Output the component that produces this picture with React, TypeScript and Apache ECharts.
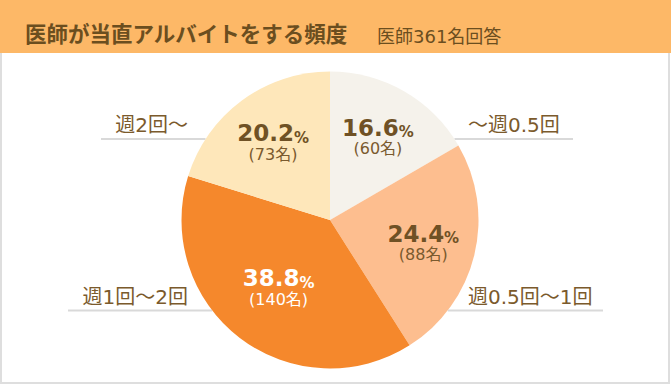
import React, { useEffect, useRef } from 'react';
import * as echarts from 'echarts';

const categories = ['〜週0.5回', '週0.5回〜1回', '週1回〜2回', '週2回〜'];
const counts = [60, 88, 140, 73];
const sliceColors = ['#F5F2EB', '#FDBE8F', '#F5882C', '#FEE7BA'];
const titleText = '医師が当直アルバイトをする頻度';
const subtitleText = '医師361名回答';

// layout (not data)
const CX = 330;
const CY = 220;
const R = 148.5;
const INNER_LABEL_R = 93;
const innerLabelRadius = [93, 93, 82, 93];
const outerLabelLayout = [
  { side: 'right', lineY: 139, lineEnd: 573, textX: 468 },
  { side: 'right', lineY: 310.5, lineEnd: 603, textX: 468 },
  { side: 'left', lineY: 310.5, lineEnd: 68, textX: 188 },
  { side: 'left', lineY: 139, lineEnd: 101, textX: 188 },
];

const CJK = '"DejaVu Sans", "Noto Sans CJK JP", sans-serif';

export default function App() {
  const ref = useRef<HTMLDivElement>(null);
  useEffect(() => {
    if (!ref.current) return;
    const chart = echarts.init(ref.current, undefined, { renderer: 'svg' });
    const total = counts.reduce((a, b) => a + b, 0);
    const data = categories.map((name, i) => ({
      name,
      value: counts[i],
      itemStyle: { color: sliceColors[i] },
    }));
    chart.setOption({
      animation: false,
      backgroundColor: '#ffffff',
      title: [
        {
          text: titleText,
          left: 20,
          top: 16,
          textStyle: {
            fontFamily: '"Noto Sans CJK JP", sans-serif',
            fontSize: 21.5,
            fontWeight: 'bold',
            color: '#6B4E1F',
            lineHeight: 22,
          },
          z: 10,
        },
        {
          text: subtitleText,
          left: 372,
          top: 22,
          textStyle: {
            fontFamily: CJK,
            fontSize: 18,
            fontWeight: 'normal',
            color: '#6B4E1F',
            lineHeight: 18,
          },
          z: 10,
        },
      ],
      graphic: [
        {
          type: 'rect',
          z: 0,
          shape: { x: 1, y: 1, width: 668, height: 382 },
          style: { fill: '#ffffff', stroke: '#DEDEDE', lineWidth: 2 },
        },
        {
          type: 'rect',
          z: 1,
          shape: { x: 0, y: 0, width: 671, height: 53 },
          style: { fill: '#FDB867' },
        },
      ],
      series: [
        {
          type: 'pie',
          center: [CX, CY],
          radius: R,
          startAngle: 90,
          clockwise: true,
          avoidLabelOverlap: false,
          silent: true,
          itemStyle: { borderWidth: 0 },
          label: {
            show: true,
            position: 'outside',
            formatter: '{b}',
            fontFamily: CJK,
            fontSize: 20,
            color: '#7B5A2C',
          },
          labelLine: {
            show: true,
            length: 5,
            length2: 5,
            lineStyle: { color: '#D9D9D9', width: 2 },
          },
          labelLayout: (params: any) => {
            const L = outerLabelLayout[params.dataIndex];
            const dy = L.lineY - CY;
            const dx = Math.sqrt(R * R - dy * dy);
            const edgeX = L.side === 'right' ? CX + dx : CX - dx;
            return {
              x: L.textX,
              y: L.lineY - 14,
              align: L.side === 'right' ? 'left' : 'right',
              verticalAlign: 'middle',
              labelLinePoints: [
                [edgeX, L.lineY],
                [(edgeX + L.lineEnd) / 2, L.lineY],
                [L.lineEnd, L.lineY],
              ],
            };
          },
          data,
        },
        {
          type: 'pie',
          center: [CX, CY],
          radius: INNER_LABEL_R * 2,
          startAngle: 90,
          clockwise: true,
          silent: true,
          z: 5,
          itemStyle: { color: 'rgba(0,0,0,0)', borderWidth: 0 },
          labelLine: { show: false },
          labelLayout: (params: any) => {
            const r = params.labelRect;
            const lx = r.x + r.width / 2;
            const ly = r.y + r.height / 2;
            const k = innerLabelRadius[params.dataIndex] / INNER_LABEL_R;
            return {
              x: CX + (lx - CX) * k,
              y: CY + (ly - CY) * k,
              align: 'center',
              verticalAlign: 'middle',
            };
          },
          label: {
            show: true,
            position: 'inside',
            formatter: (p: any) => {
              const pct = ((p.value / total) * 100).toFixed(1);
              const w = p.dataIndex === 2 ? 'W' : '';
              return `{p${w}|${pct}}{s${w}|%}\n{c${w}|(${p.value}名)}`;
            },
            rich: {
              p: { fontFamily: '"DejaVu Sans", sans-serif', fontWeight: 'bold', fontSize: 23, color: '#6F5125', lineHeight: 24 },
              s: { fontFamily: '"DejaVu Sans", sans-serif', fontWeight: 'bold', fontSize: 15, color: '#6F5125', lineHeight: 24, verticalAlign: 'bottom' },
              c: { fontFamily: CJK, fontSize: 16, color: '#7A5A2E', lineHeight: 18 },
              pW: { fontFamily: '"DejaVu Sans", sans-serif', fontWeight: 'bold', fontSize: 23, color: '#ffffff', lineHeight: 24 },
              sW: { fontFamily: '"DejaVu Sans", sans-serif', fontWeight: 'bold', fontSize: 15, color: '#ffffff', lineHeight: 24, verticalAlign: 'bottom' },
              cW: { fontFamily: CJK, fontSize: 16, color: '#ffffff', lineHeight: 18 },
            },
          },
          data: categories.map((name, i) => ({ name, value: counts[i] })),
        },
      ],
    });
    return () => chart.dispose();
  }, []);
  return (
    <div
      ref={ref}
      style={{ position: 'fixed', left: 0, top: 0, width: 671, height: 385 }}
    />
  );
}
